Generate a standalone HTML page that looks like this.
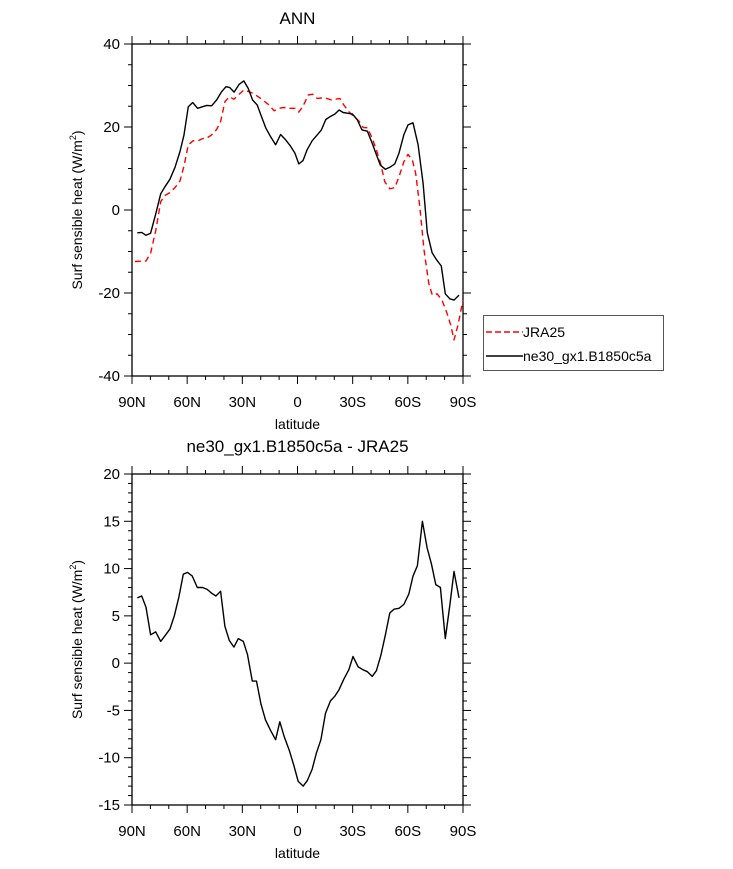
<!DOCTYPE html>
<html><head><meta charset="utf-8"><style>
body{margin:0;background:#fff}
svg{display:block;font-family:"Liberation Sans",sans-serif}
</style></head><body>
<svg id="c" width="733" height="869" xmlns="http://www.w3.org/2000/svg"></svg>
<script>
const blackLat=[87.1,84.7,82.4,79.9,77.0,74.4,72.1,69.4,66.6,63.9,61.7,59.4,57.0,54.3,51.6,49.4,46.7,44.0,41.3,38.9,36.8,34.5,31.7,29.2,26.8,24.4,21.9,19.6,17.2,14.7,11.9,9.2,6.4,3.8,1.4,-0.7,-3.0,-5.2,-8.0,-10.7,-13.0,-15.4,-18.1,-20.3,-22.6,-24.8,-27.5,-29.9,-32.4,-35.1,-38.0,-40.6,-42.9,-45.1,-47.8,-50.2,-52.9,-55.2,-57.8,-60.1,-62.8,-65.6,-68.3,-70.6,-73.2,-75.5,-78.2,-80.4,-82.8,-85.1,-87.8];
const blackVal=[-5.5,-5.4,-6.1,-5.6,-0.8,3.9,5.6,7.4,10.3,14.1,18.1,24.9,25.9,24.5,24.9,25.2,25.1,26.5,28.5,29.7,29.5,28.4,30.3,31.1,29.3,26.5,25.3,22.5,19.7,17.7,15.7,18.2,16.9,15.4,13.7,11.1,11.9,14.5,16.7,18.1,19.3,21.8,22.6,23.1,24.1,23.5,23.3,23.1,21.8,19.3,19.0,16.1,13.3,10.8,9.8,10.3,11.1,13.7,18.1,20.5,21.0,15.7,6.4,-5.5,-10.3,-11.9,-13.5,-20.2,-21.4,-21.7,-20.5];
const redLat=[88.4,82.4,79.9,77.0,74.4,72.1,69.4,66.6,63.9,61.7,59.4,56.7,54.0,51.6,49.1,46.7,44.0,41.8,39.5,37.1,34.6,32.2,29.2,26.3,23.7,20.8,18.3,15.4,12.7,10.0,7.4,4.5,1.4,-0.7,-3.1,-5.8,-8.2,-10.7,-13.0,-15.8,-18.5,-20.8,-23.0,-25.2,-27.9,-30.6,-33.3,-35.7,-38.0,-40.6,-42.9,-45.1,-47.5,-50.2,-52.9,-55.2,-57.8,-60.1,-62.5,-64.3,-66.5,-68.8,-71.4,-73.3,-75.9,-78.6,-81.3,-83.3,-85.1,-87.3,-90];
const redVal=[-12.4,-12.3,-10.4,-4.8,2.0,3.5,4.2,5.4,7.0,10.6,15.7,16.7,16.7,17.2,17.4,18.1,19.4,21.3,26.1,27.3,26.7,27.7,28.9,28.5,28.0,27.1,26.3,25.3,23.9,24.5,24.7,24.5,24.5,23.6,25.1,27.7,27.9,26.9,27.0,26.9,26.5,26.7,26.9,25.3,23.7,22.5,21.5,19.9,19.8,17.3,14.5,11.4,6.8,5.1,5.4,8.0,11.6,13.4,12.0,8.8,0.8,-9.6,-17.7,-20.5,-20.2,-21.7,-24.9,-27.7,-31.3,-27.7,-21.7];
const diffLat=[87.1,84.7,82.4,79.9,77.1,74.4,71.7,69.4,67.0,64.5,62.1,59.8,57.2,54.5,51.6,49.1,46.7,44.4,41.8,39.5,37.1,34.6,32.2,29.5,27.2,24.6,22.3,19.9,17.4,14.7,11.9,9.6,7.2,4.5,2.0,-0.4,-3.1,-5.4,-8.0,-10.3,-12.7,-15.2,-17.9,-20.3,-22.6,-25.2,-27.9,-30.2,-33.0,-35.7,-38.0,-40.6,-42.9,-45.3,-47.8,-50.2,-52.5,-55.2,-57.8,-60.5,-62.8,-65.2,-67.9,-70.5,-72.8,-75.2,-77.7,-80.4,-82.8,-85.1,-87.8];
const diffVal=[6.9,7.1,5.9,3.0,3.3,2.3,3.0,3.6,5.0,7.0,9.4,9.6,9.2,8.0,8.0,7.8,7.4,7.1,7.6,3.9,2.4,1.7,2.6,2.3,0.9,-1.9,-1.9,-4.3,-6.0,-7.1,-8.1,-6.2,-7.8,-9.2,-10.8,-12.5,-13.0,-12.4,-11.2,-9.5,-8.1,-5.3,-4.0,-3.5,-2.8,-1.7,-0.7,0.7,-0.4,-0.7,-0.9,-1.4,-0.8,0.8,3.0,5.3,5.7,5.8,6.2,7.3,9.2,10.3,15.0,12.2,10.5,8.3,8.0,2.6,6.1,9.7,6.9];
const xTickLabels=["90N","60N","30N","0","30S","60S","90S"];
const topTicks=[40,20,0,-20,-40];
const botTicks=[20,15,10,5,0,-5,-10,-15];

const NS="http://www.w3.org/2000/svg";
const svg=document.getElementById('c');
function el(t,a,p){const e=document.createElementNS(NS,t);for(const k in a)e.setAttribute(k,a[k]);(p||svg).appendChild(e);return e;}
const L=132,R=463;
function xs(lat){return L+(90-lat)/180*(R-L);}
function panel(name,top,bot,ymax,ymin,ticks,minorStep,title,titleY){
  const g=el('g',{});
  
  
  const ys=v=>top+(ymax-v)/(ymax-ymin)*(bot-top);
  const fr=el('rect',{x:L,y:top,width:R-L,height:bot-top,fill:'none',stroke:'#000','stroke-width':1.3},g);
  
  for(let lat=90;lat>=-90;lat-=10){const x=xs(lat);const maj=lat%30===0;const len=maj?8:4;
    el('line',{x1:x,y1:bot,x2:x,y2:bot+len,stroke:'#000','stroke-width':1},g);
    el('line',{x1:x,y1:top,x2:x,y2:top-len,stroke:'#000','stroke-width':1},g);}
  xTickLabels.forEach((t,i)=>{const tx=el('text',{x:xs(90-30*i),y:bot+31,'font-size':15,'text-anchor':'middle'},g);tx.textContent=t;
    });
  for(let v=ymin;v<=ymax+1e-9;v+=minorStep){const y=ys(v);const maj=ticks.includes(Math.round(v*100)/100);const len=maj?8:4;
    el('line',{x1:L,y1:y,x2:L-len,y2:y,stroke:'#000','stroke-width':1},g);
    el('line',{x1:R,y1:y,x2:R+len,y2:y,stroke:'#000','stroke-width':1},g);}
  ticks.forEach(v=>{const tx=el('text',{x:L-12,y:ys(v)+5,'font-size':15,'text-anchor':'end'},g);tx.textContent=v;
    });
  const xl=el('text',{x:(L+R)/2,y:bot+53,'font-size':14,'text-anchor':'middle'},g);xl.textContent='latitude';
  
  const cy=(top+bot)/2;
  const yl=el('text',{x:82,y:cy,'font-size':14,'text-anchor':'middle',transform:`rotate(-90 82 ${cy})`},g);
  yl.innerHTML='Surf sensible heat (W/m<tspan font-size="9" dy="-6">2</tspan><tspan dy="6">)</tspan>';
  
  const ti=el('text',{x:(L+R)/2,y:titleY,'font-size':17,'text-anchor':'middle'},g);ti.textContent=title;
  
  return {g,ys};
}
const p1=panel('top-panel',44,376,40,-40,topTicks,5,'ANN',24);
const p2=panel('bottom-panel',474,805,20,-15,botTicks,1,'ne30_gx1.B1850c5a - JRA25',452);
function line(p,lats,vals,attrs,name){
  const d=lats.map((la,i)=>(i?'L':'M')+xs(la).toFixed(1)+','+p.ys(vals[i]).toFixed(1)).join(' ');
  const e=el('path',Object.assign({d,fill:'none','stroke-linejoin':'round'},attrs),p.g);
  
  
}
line(p1,redLat,redVal,{stroke:'#f00','stroke-width':1.4,'stroke-dasharray':'6,4'},'jra25-line');
line(p1,blackLat,blackVal,{stroke:'#000','stroke-width':1.4},'model-line');
line(p2,diffLat,diffVal,{stroke:'#000','stroke-width':1.4},'difference-line');
const lg=el('g',{});


el('rect',{x:483.5,y:315.5,width:180,height:55,fill:'#fff',stroke:'#555','stroke-width':1},lg);
el('line',{x1:486,y1:332,x2:523,y2:332,stroke:'#f00','stroke-width':1.4,'stroke-dasharray':'6,3'},lg);
el('line',{x1:486,y1:356,x2:523,y2:356,stroke:'#000','stroke-width':1.4},lg);
const t1=el('text',{x:523,y:337,'font-size':14},lg);t1.textContent='JRA25';

const t2=el('text',{x:523,y:361,'font-size':14},lg);t2.textContent='ne30_gx1.B1850c5a';

</script>
</body></html>
